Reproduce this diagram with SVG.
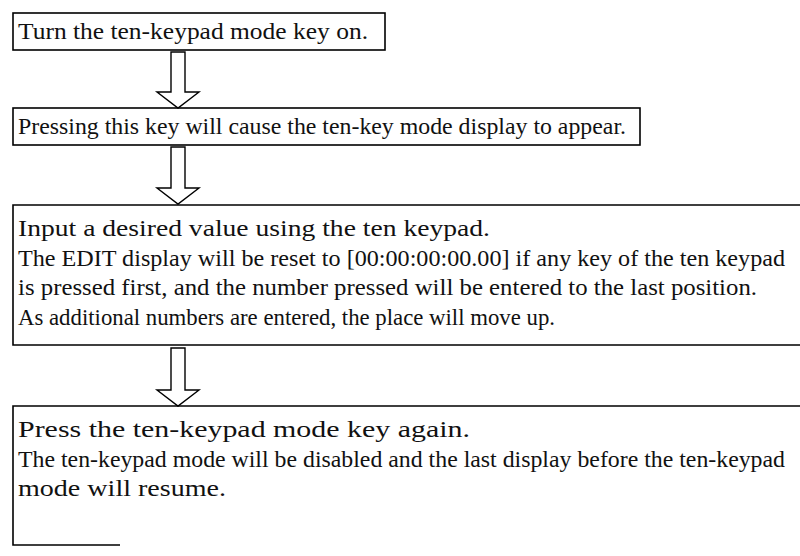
<svg xmlns="http://www.w3.org/2000/svg" width="800" height="556" viewBox="0 0 800 556">
<style>
.box{fill:none;stroke:#000;stroke-width:1.6}
.t{font-family:"Liberation Serif","Times New Roman",serif;font-size:23px;fill:#111}
.arr{fill:#fff;stroke:#000;stroke-width:1.4;stroke-linejoin:miter}
</style>
<rect width="800" height="556" fill="#fff"/>
<g id="connectors">
<path class="arr" d="M171,52 V92 H157 L178,108 L199,92 H185 V52 Z"/>
<path class="arr" d="M171,147 V188 H157 L178,204 L199,188 H185 V147 Z"/>
<path class="arr" d="M171,348 V390 H157 L178,406 L199,390 H185 V348 Z"/>
</g>
<g id="n1">
<rect class="box" x="13" y="13" width="372" height="37"/>
<text class="t" x="18" y="39" textLength="350" lengthAdjust="spacingAndGlyphs">Turn the ten-keypad mode key on.</text>
</g>
<g id="n2">
<rect class="box" x="13" y="108" width="627" height="37"/>
<text class="t" x="18" y="134" textLength="608" lengthAdjust="spacingAndGlyphs">Pressing this key will cause the ten-key mode display to appear.</text>
</g>
<g id="n3">
<path class="box" d="M801,205 H13 V345 H801"/>
<text class="t" x="18" y="236" textLength="472" lengthAdjust="spacingAndGlyphs">Input a desired value using the ten keypad.</text>
<text class="t" x="18" y="266" textLength="767" lengthAdjust="spacingAndGlyphs">The EDIT display will be reset to [00:00:00:00.00] if any key of the ten keypad</text>
<text class="t" x="18" y="295" textLength="739" lengthAdjust="spacingAndGlyphs">is pressed first, and the number pressed will be entered to the last position.</text>
<text class="t" x="18" y="325" textLength="537" lengthAdjust="spacingAndGlyphs">As additional numbers are entered, the place will move up.</text>
</g>
<g id="n4">
<path class="box" d="M801,406 H13 V545 H120"/>
<text class="t" x="18" y="437" textLength="452" lengthAdjust="spacingAndGlyphs">Press the ten-keypad mode key again.</text>
<text class="t" x="18" y="467" textLength="767" lengthAdjust="spacingAndGlyphs">The ten-keypad mode will be disabled and the last display before the ten-keypad</text>
<text class="t" x="18" y="496" textLength="208" lengthAdjust="spacingAndGlyphs">mode will resume.</text>
</g>
</svg>
